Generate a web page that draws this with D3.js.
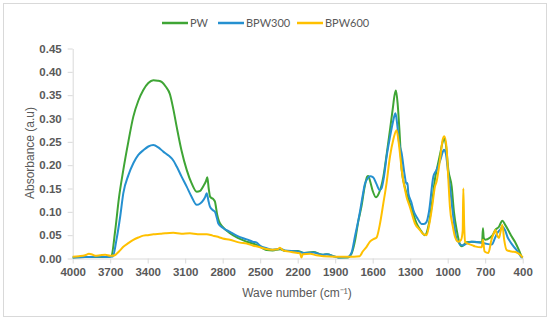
<!DOCTYPE html>
<html>
<head>
<meta charset="utf-8">
<script src="https://cdn.jsdelivr.net/npm/d3@7"></script>
<style>
  body { margin: 0; background: #fff; }
  svg { display: block; }
</style>
</head>
<body>
<div id="graph"></div>
<script>
// [wave number, absorbance]
var pw = [[4000,0.002],[3900,0.003],[3800,0.003],[3720,0.003],[3690,0.006],[3660,0.06],[3630,0.13],[3595,0.19],[3555,0.25],[3515,0.304],[3475,0.338],[3435,0.361],[3395,0.376],[3355,0.382],[3320,0.381],[3286,0.378],[3255,0.368],[3222,0.352],[3195,0.32],[3168,0.282],[3130,0.232],[3088,0.19],[3050,0.162],[3008,0.143],[2980,0.145],[2955,0.155],[2935,0.165],[2923,0.174],[2912,0.15],[2900,0.132],[2875,0.127],[2862,0.122],[2845,0.095],[2830,0.08],[2800,0.068],[2742,0.054],[2680,0.044],[2608,0.036],[2528,0.029],[2480,0.022],[2448,0.018],[2400,0.017],[2340,0.02],[2300,0.016],[2200,0.016],[2150,0.012],[2075,0.014],[2000,0.008],[1968,0.009],[1900,0.004],[1862,0.002],[1800,0.002],[1770,0.01],[1740,0.04],[1715,0.08],[1691,0.11],[1664,0.154],[1645,0.175],[1636,0.177],[1620,0.165],[1600,0.145],[1574,0.131],[1550,0.14],[1515,0.175],[1490,0.22],[1462,0.275],[1440,0.32],[1425,0.35],[1414,0.36],[1400,0.33],[1385,0.27],[1368,0.19],[1340,0.15],[1302,0.118],[1275,0.095],[1249,0.075],[1215,0.06],[1182,0.05],[1170,0.054],[1150,0.075],[1120,0.13],[1102,0.17],[1080,0.2],[1060,0.225],[1040,0.25],[1030,0.257],[1015,0.245],[995,0.19],[968,0.154],[950,0.1],[928,0.061],[902,0.03],[888,0.026],[870,0.03],[850,0.035],[808,0.036],[760,0.035],[725,0.035],[718,0.065],[712,0.045],[700,0.04],[660,0.045],[640,0.05],[622,0.06],[590,0.068],[563,0.081],[540,0.072],[510,0.058],[488,0.047],[460,0.035],[430,0.018],[408,0.004],[400,0.002]];

var bpw300 = [[4000,0.002],[3900,0.003],[3800,0.004],[3720,0.003],[3680,0.004],[3650,0.04],[3620,0.09],[3595,0.14],[3555,0.178],[3515,0.204],[3475,0.222],[3435,0.232],[3395,0.24],[3355,0.243],[3315,0.238],[3275,0.229],[3240,0.222],[3222,0.218],[3195,0.21],[3168,0.197],[3130,0.176],[3088,0.154],[3050,0.133],[3008,0.115],[2980,0.118],[2955,0.125],[2940,0.132],[2928,0.14],[2915,0.125],[2902,0.111],[2880,0.104],[2862,0.1],[2845,0.085],[2835,0.075],[2800,0.066],[2742,0.057],[2680,0.048],[2608,0.041],[2560,0.036],[2528,0.034],[2500,0.027],[2448,0.022],[2400,0.019],[2340,0.021],[2300,0.017],[2200,0.015],[2150,0.012],[2075,0.013],[2000,0.008],[1968,0.009],[1900,0.004],[1862,0.002],[1800,0.003],[1770,0.012],[1740,0.05],[1720,0.075],[1704,0.097],[1680,0.135],[1662,0.16],[1649,0.168],[1620,0.176],[1596,0.174],[1570,0.16],[1545,0.147],[1530,0.15],[1510,0.175],[1489,0.218],[1462,0.26],[1440,0.29],[1418,0.311],[1405,0.29],[1390,0.25],[1368,0.225],[1345,0.18],[1330,0.16],[1322,0.162],[1315,0.14],[1290,0.12],[1275,0.104],[1240,0.085],[1209,0.074],[1190,0.074],[1170,0.078],[1150,0.1],[1115,0.175],[1089,0.19],[1060,0.21],[1040,0.228],[1030,0.233],[1015,0.225],[995,0.18],[982,0.154],[960,0.1],[942,0.061],[928,0.04],[915,0.036],[900,0.03],[880,0.028],[850,0.032],[808,0.036],[782,0.036],[740,0.034],[700,0.032],[648,0.03],[620,0.045],[602,0.055],[580,0.062],[563,0.068],[540,0.06],[520,0.045],[500,0.036],[470,0.025],[440,0.015],[410,0.003],[400,0.002]];

var bpw600 = [[4000,0.004],[3950,0.005],[3900,0.007],[3870,0.01],[3850,0.009],[3820,0.006],[3780,0.007],[3740,0.008],[3700,0.006],[3680,0.006],[3664,0.007],[3630,0.015],[3595,0.025],[3555,0.033],[3515,0.04],[3475,0.045],[3435,0.049],[3398,0.05],[3355,0.052],[3300,0.053],[3260,0.054],[3195,0.055],[3131,0.053],[3062,0.054],[3000,0.052],[2928,0.052],[2880,0.049],[2848,0.047],[2800,0.043],[2742,0.04],[2662,0.034],[2608,0.032],[2560,0.028],[2516,0.025],[2460,0.021],[2400,0.019],[2360,0.02],[2342,0.023],[2320,0.018],[2250,0.014],[2200,0.012],[2181,0.011],[2170,0.002],[2160,0.009],[2100,0.01],[2050,0.007],[1995,0.005],[1900,0.004],[1808,0.004],[1750,0.004],[1704,0.005],[1680,0.015],[1649,0.025],[1622,0.036],[1590,0.042],[1569,0.045],[1545,0.07],[1515,0.118],[1490,0.16],[1462,0.218],[1435,0.255],[1409,0.275],[1395,0.255],[1380,0.22],[1368,0.19],[1329,0.132],[1302,0.11],[1262,0.075],[1222,0.061],[1195,0.052],[1170,0.05],[1150,0.07],[1125,0.11],[1102,0.154],[1089,0.165],[1060,0.215],[1040,0.255],[1027,0.262],[1010,0.24],[995,0.17],[982,0.11],[960,0.07],[940,0.045],[915,0.036],[893,0.04],[880,0.06],[875,0.15],[868,0.07],[860,0.035],[848,0.033],[800,0.028],[782,0.026],[728,0.024],[718,0.04],[705,0.015],[675,0.012],[650,0.04],[630,0.055],[617,0.061],[605,0.05],[590,0.044],[575,0.06],[563,0.072],[548,0.04],[528,0.018],[490,0.015],[448,0.013],[420,0.008],[400,0.002]];

var seriesNames = ["PW", "BPW300", "BPW600"];
var seriesColors = ["#3fa535", "#2590d0", "#ffc000"];
var xTicks = d3.range(4000, 399, -300);
var yTicks = d3.range(0, 0.4501, 0.05);

var w = 550, h = 322;
var vis = d3.select("#graph").append("svg")
  .attr("width", w)
  .attr("height", h);

// outer frame
vis.append("rect")
  .attr("x", 3.5).attr("y", 3.5)
  .attr("width", 543).attr("height", 313)
  .attr("fill", "none")
  .attr("stroke", "#d9d9d9");

var x = d3.scaleLinear().domain([4000, 400]).range([72.7, 522.7]);
var y = d3.scaleLinear().domain([0, 0.45]).range([258.5, 48.5]);

var yAxis = vis.append("g")
  .attr("transform", "translate(72.7,0)")
  .call(d3.axisLeft(y).tickValues(yTicks).tickFormat(d3.format(".2f"))
    .tickSize(5).tickSizeOuter(0).tickPadding(6));

var xAxis = vis.append("g")
  .attr("transform", "translate(0,258.5)")
  .call(d3.axisBottom(x).tickValues(xTicks).tickFormat(d3.format("d"))
    .tickSize(5).tickSizeOuter(0).tickPadding(4));

[yAxis, xAxis].forEach(function(a) {
  a.selectAll("path, line").attr("stroke", "#d9d9d9");
  a.selectAll("text")
    .attr("fill", "#595959")
    .style("font-family", "'Liberation Sans', Arial, sans-serif")
    .style("font-size", "11.5px")
    .style("font-weight", "bold");
});

var line = d3.line()
  .x(function(d) { return x(d[0]); })
  .y(function(d) { return y(d[1]); })
  .curve(d3.curveMonotoneX);

[pw, bpw300, bpw600].forEach(function(s, i) {
  vis.append("path")
    .datum(s)
    .attr("d", line)
    .attr("fill", "none")
    .attr("stroke", seriesColors[i])
    .attr("stroke-width", 2)
    .attr("stroke-linejoin", "round");
});

// axis titles
vis.append("text")
  .attr("transform", "translate(34,153) rotate(-90)")
  .attr("text-anchor", "middle")
  .attr("fill", "#595959")
  .style("font-family", "'Liberation Sans', Arial, sans-serif")
  .style("font-size", "12px")
  .text("Absorbance (a.u)");

vis.append("text")
  .attr("x", 297).attr("y", 297)
  .attr("text-anchor", "middle")
  .attr("fill", "#595959")
  .style("font-family", "'Liberation Sans', Arial, sans-serif")
  .style("font-size", "12px")
  .text("Wave number (cm⁻¹)");

// legend
var legendX = [162, 218, 297];
seriesNames.forEach(function(name, i) {
  vis.append("line")
    .attr("x1", legendX[i]).attr("x2", legendX[i] + 26)
    .attr("y1", 23).attr("y2", 23)
    .attr("stroke", seriesColors[i])
    .attr("stroke-width", 2.5);
  vis.append("text")
    .attr("x", legendX[i] + 28).attr("y", 27)
    .attr("fill", "#595959")
    .style("font-family", "Lato, sans-serif")
    .style("font-size", "11px")
    .text(name);
});
</script>
</body>
</html>
